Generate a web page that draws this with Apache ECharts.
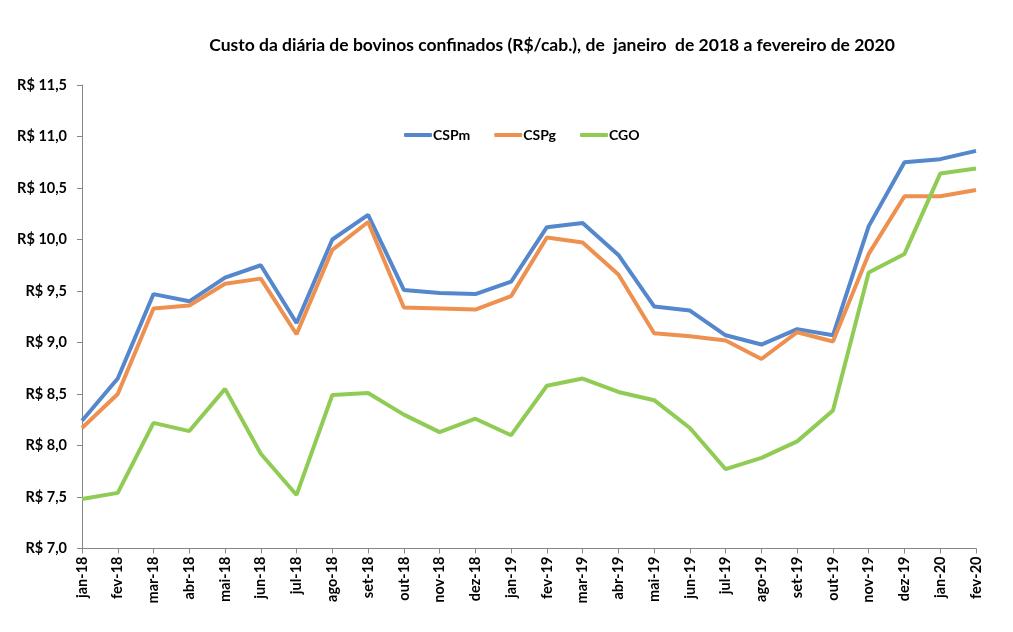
<!DOCTYPE html>
<html>
<head>
<meta charset="utf-8">
<script src="https://cdn.jsdelivr.net/npm/echarts@6/dist/echarts.min.js"></script>
<style>html,body{margin:0;padding:0;background:#fff}#c{width:1013px;height:632px}</style>
</head>
<body>
<div id="c"></div>
<script>
const categories = ['jan-18','fev-18','mar-18','abr-18','mai-18','jun-18','jul-18','ago-18','set-18','out-18','nov-18','dez-18',
  'jan-19','fev-19','mar-19','abr-19','mai-19','jun-19','jul-19','ago-19','set-19','out-19','nov-19','dez-19','jan-20','fev-20'];
const cspm = [8.24,8.65,9.47,9.40,9.63,9.75,9.19,10.00,10.24,9.51,9.48,9.47,9.59,10.12,10.16,9.85,9.35,9.31,9.07,8.98,9.13,9.07,10.13,10.75,10.78,10.86];
const cspg = [8.17,8.50,9.33,9.36,9.57,9.62,9.08,9.90,10.17,9.34,9.33,9.32,9.45,10.02,9.97,9.66,9.09,9.06,9.02,8.84,9.10,9.01,9.86,10.42,10.42,10.48];
const cgo  = [7.48,7.54,8.22,8.14,8.55,7.92,7.52,8.49,8.51,8.30,8.13,8.26,8.10,8.58,8.65,8.52,8.44,8.17,7.77,7.88,8.04,8.34,9.68,9.86,10.64,10.69];
const titleText = 'Custo da diária de bovinos confinados (R$/cab.), de  janeiro  de 2018 a fevereiro de 2020';

const font = 'Lato, "Open Sans", sans-serif';
const chart = echarts.init(document.getElementById('c'), null, {renderer:'canvas'});
const mk = (name, data, color) => ({
  name, type:'line', data, symbol:'none', smooth:false,
  lineStyle:{width:4, color}, itemStyle:{color}
});
chart.setOption({
  animation:false,
  backgroundColor:'#fff',
  title:{text:titleText, left:547, top:31, textAlign:'center',
    textStyle:{fontFamily:font, fontWeight:'bold', fontSize:17.5, color:'#000'}},
  legend:{left:399, top:123, icon:'roundRect', itemWidth:28, itemHeight:4, itemGap:24,
    textStyle:{fontFamily:font, fontWeight:'bold', fontSize:14, color:'#000', padding:[0,0,0,-4]},
    data:['CSPm','CSPg','CGO']},
  grid:{left:82, right:37, top:85, bottom:83.5, containLabel:false},
  xAxis:{type:'category', data:categories, boundaryGap:false,
    axisLine:{lineStyle:{color:'#868686', width:1}},
    axisTick:{show:true, length:5, lineStyle:{color:'#868686'}},
    axisLabel:{rotate:90, margin:8, fontFamily:font, fontWeight:'bold', fontSize:14.5, color:'#000'}},
  yAxis:{type:'value', min:7, max:11.5, interval:0.5,
    axisLine:{show:true, lineStyle:{color:'#868686', width:1}},
    axisTick:{show:true, length:5, lineStyle:{color:'#868686'}},
    splitLine:{show:false},
    axisLabel:{margin:15, fontFamily:font, fontWeight:'bold', fontSize:14.5, color:'#000',
      formatter:v=>'R$ '+v.toFixed(1).replace('.',',')}},
  series:[mk('CSPm',cspm,'#5587CC'), mk('CSPg',cspg,'#EE9150'), mk('CGO',cgo,'#90CC55')]
});
</script>
</body>
</html>
